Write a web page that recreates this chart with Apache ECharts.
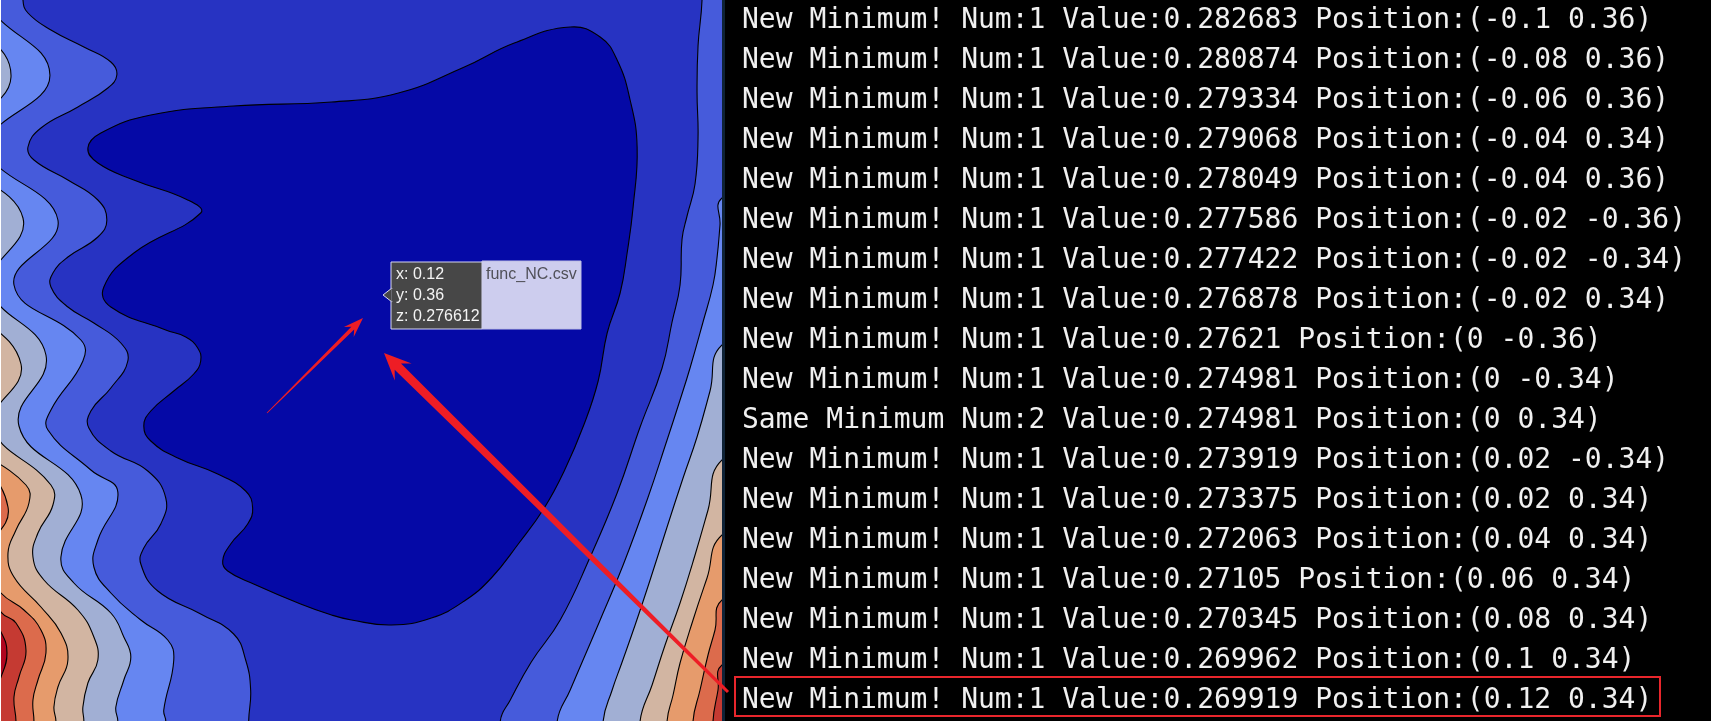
<!DOCTYPE html>
<html>
<head>
<meta charset="utf-8">
<title>func_NC contour</title>
<script src="https://cdn.jsdelivr.net/npm/echarts@6/dist/echarts.min.js"></script>
<style>
html, body { margin: 0; padding: 0; background: #fff; }
#container { width: 1711px; height: 721px; }
</style>
</head>
<body>
<div id="container"></div>
<script>
// contour lines, plot units: x 0..722 to the right, y 0..721 downwards
// innermost closed level (dark blue blob)
var contour1 = [[331,102],[398,93],[464,67],[514,43],[570,27],[600,37],[617,60],[630,100],[637,147],[633,207],[627,253],[620,293],[607,333],[598,381],[584,424],[564,471],[544,508],[518,544],[491,578],[464,601],[431,618],[391,625],[351,620],[331,615],[300,604],[253,584],[227,571],[222,561],[230,544],[247,524],[252,508],[245,491],[217,474],[177,458],[150,441],[143,426],[150,411],[173,391],[193,374],[200,361],[197,348],[185,337],[165,330],[110,307],[103,287],[133,253],[200,213],[187,200],[133,180],[97,163],[87,148],[100,133],[150,115],[233,106]];

// left branches, top to bottom
var left2 = [[22,0],[27,13],[50,30],[83,47],[110,62],[116,75],[107,88],[77,107],[40,128],[27,147],[33,160],[67,180],[97,200],[106,220],[97,237],[67,257],[52,273],[50,287],[67,307],[93,323],[120,343],[127,361],[110,388],[90,411],[88,428],[110,451],[147,471],[165,498],[160,524],[143,548],[140,564],[157,591],[200,614],[233,634],[245,660],[250,690],[248,721]];
var left3 = [[-15,0],[49,75],[-12,147],[57,220],[13,285],[80,340],[82,361],[50,410],[47,430],[90,470],[117,492],[97,540],[93,567],[110,593],[140,620],[167,640],[173,660],[163,710],[165,721]];
var left4 = [[-40,0],[10,77],[-45,147],[22,218],[-10,287],[45,355],[18,426],[80,495],[60,557],[73,583],[110,613],[123,637],[130,657],[123,680],[115,707],[117,721]];
var left5 = [[-70,0],[-25,75],[-80,147],[-15,220],[-40,287],[20,364],[-8,426],[50,485],[52,505],[37,533],[32,557],[43,580],[77,610],[93,637],[97,660],[87,683],[82,707],[83,721]];
var left6 = [[-100,0],[-60,75],[-110,147],[-50,220],[-80,287],[-25,361],[-40,428],[25,485],[28,503],[15,530],[7,553],[13,577],[40,607],[60,633],[67,660],[57,687],[53,707],[55,721]];
var left7 = [[-140,0],[-100,147],[-90,287],[-60,361],[-45,428],[7,507],[-20,562],[0,593],[23,610],[40,630],[45,653],[37,680],[32,700],[33,721]];
var left8 = [[-170,0],[-150,147],[-110,287],[-80,361],[-60,428],[-20,500],[-30,562],[0,612],[15,623],[25,650],[18,677],[13,697],[15,721]];
var left9 = [[-200,0],[-160,287],[-100,428],[-50,500],[-40,562],[0,632],[6,653],[0,677],[-15,710],[-12,721]];

// right branches, bottom to top / right edge
var right2 = [[500,721],[510,700],[531,662],[560,620],[590,557],[617,493],[640,427],[662,368],[672,322],[680,285],[682,239],[687,216],[695,184],[698,138],[697,92],[698,46],[702,0]];
var right3 = [[557,721],[570,690],[582,662],[600,620],[623,565],[647,500],[667,440],[680,400],[690,368],[703,322],[713,285],[717,258],[720,225],[722,198]];
var right4 = [[603,721],[612,690],[622,662],[635,625],[650,580],[667,527],[683,478],[697,437],[710,391],[722,345]];
var right5 = [[640,721],[652,685],[665,645],[680,603],[695,555],[708,510],[722,460]];
var right6 = [[667,721],[673,695],[680,663],[693,620],[707,578],[722,535]];
var right7 = [[693,721],[700,690],[708,655],[715,630],[722,600]];
var right8 = [[713,721],[718,690],[722,665]];
var right9 = [];

var levels = [9, 8, 7, 6, 5, 4, 3, 2, 1];

// console log
var logKind = ['New Minimum!','New Minimum!','New Minimum!','New Minimum!','New Minimum!','New Minimum!','New Minimum!','New Minimum!','New Minimum!','New Minimum!','Same Minimum','New Minimum!','New Minimum!','New Minimum!','New Minimum!','New Minimum!','New Minimum!','New Minimum!'];
var logNum = [1,1,1,1,1,1,1,1,1,1,2,1,1,1,1,1,1,1];
var logValue = [0.282683,0.280874,0.279334,0.279068,0.278049,0.277586,0.277422,0.276878,0.27621,0.274981,0.274981,0.273919,0.273375,0.272063,0.27105,0.270345,0.269962,0.269919];
var logPosX = [-0.1,-0.08,-0.06,-0.04,-0.04,-0.02,-0.02,-0.02,0,0,0,0.02,0.02,0.04,0.06,0.08,0.1,0.12];
var logPosY = [0.36,0.36,0.36,0.34,0.36,-0.36,-0.34,0.34,-0.36,-0.34,0.34,-0.34,0.34,0.34,0.34,0.34,0.34,0.34];

// hover label
var hoverKeys = ['x', 'y', 'z'];
var hoverValues = [0.12, 0.36, 0.276612];
var hoverTrace = 'func_NC.csv';

var bandColors = ['#0509a6','#2733c2','#465bdb','#6686f1','#a1afd4','#d2b5a2','#e69b6c','#dc6b4c','#c53a32','#b0061f'];

var leftBranch = { 2: left2, 3: left3, 4: left4, 5: left5, 6: left6, 7: left7, 8: left8, 9: left9 };
var rightBranch = { 2: right2, 3: right3, 4: right4, 5: right5, 6: right6, 7: right7, 8: right8, 9: right9 };

// region below level k, closed outside the plot so the clip hides the seams
function levelOutline(k) {
    if (k === 1) return contour1;
    var l = leftBranch[k], r = rightBranch[k];
    var pts = [[l[0][0], -60]].concat(l);
    pts.push([l[l.length - 1][0], 780]);
    if (r.length) {
        pts.push([r[0][0], 780]);
        pts = pts.concat(r);
        var last = r[r.length - 1];
        if (last[1] <= 0) {
            pts.push([last[0], -60]);
        } else {
            pts.push([820, last[1] - 60]);
            pts.push([820, -60]);
        }
    } else {
        pts.push([820, 780]);
        pts.push([820, -60]);
    }
    return pts;
}

function arrowShape(tail, tip, headLen, headHalf, tailHalf, neckHalf) {
    var dx = tip[0] - tail[0], dy = tip[1] - tail[1];
    var len = Math.sqrt(dx * dx + dy * dy);
    var ux = dx / len, uy = dy / len, nx = -uy, ny = ux;
    var bx = tip[0] - ux * headLen, by = tip[1] - uy * headLen;
    var cx = tip[0] - ux * headLen * 0.72, cy = tip[1] - uy * headLen * 0.72;
    return [
        [tail[0] + nx * tailHalf, tail[1] + ny * tailHalf],
        [cx + nx * neckHalf, cy + ny * neckHalf],
        [bx + nx * headHalf, by + ny * headHalf],
        tip,
        [bx - nx * headHalf, by - ny * headHalf],
        [cx - nx * neckHalf, cy - ny * neckHalf],
        [tail[0] - nx * tailHalf, tail[1] - ny * tailHalf]
    ];
}

var logLines = [];
for (var i = 0; i < logKind.length; i++) {
    logLines.push(logKind[i] + ' Num:' + logNum[i] + ' Value:' + logValue[i] +
        ' Position:(' + logPosX[i] + ' ' + logPosY[i] + ')');
}
var hoverLines = hoverKeys.map(function (k, i) { return k + ': ' + hoverValues[i]; });

var dom = document.getElementById('container');
var myChart = echarts.init(dom);

var option = {
    animation: false,
    grid: {
        left: 1, top: 0, width: 721, height: 721,
        show: true, backgroundColor: bandColors[9], borderWidth: 0
    },
    xAxis: { type: 'value', min: 0, max: 722, show: false },
    yAxis: { type: 'value', min: 0, max: 721, inverse: true, show: false },
    series: [{
        type: 'custom',
        clip: true,
        data: levels.map(function (k) { return [k]; }),
        renderItem: function (params, api) {
            var k = api.value(0);
            var pts = levelOutline(k).map(function (p) { return api.coord(p); });
            return {
                type: 'polygon',
                shape: { points: pts, smooth: 0.45 },
                style: { fill: bandColors[k - 1], stroke: '#000', lineWidth: 1.1 }
            };
        }
    }],
    graphic: { elements: [
        { type: 'rect', z: 100, shape: { x: 725, y: 0, width: 986, height: 721 }, style: { fill: '#000' } },
        { type: 'rect', z: 100, shape: { x: 722, y: 0, width: 3, height: 721 }, style: { fill: '#0e2236' } },
        { type: 'text', z: 101, x: 742, y: 1,
          style: { text: logLines.join('\n'), font: '28px "DejaVu Sans Mono", monospace', fill: '#f0f0f0', lineHeight: 40, align: 'left', verticalAlign: 'top' } },
        { type: 'rect', z: 102, shape: { x: 735, y: 677, width: 925, height: 39 }, style: { fill: 'none', stroke: '#e8262c', lineWidth: 2 } },
        // hover label
        { type: 'rect', z: 110, shape: { x: 482, y: 261, width: 99, height: 68 }, style: { fill: '#cdcdee', stroke: '#bdbde4', lineWidth: 1 } },
        { type: 'rect', z: 110, shape: { x: 391, y: 262, width: 91, height: 67 }, style: { fill: '#474747', stroke: '#d8d8f2', lineWidth: 1 } },
        { type: 'polygon', z: 111, shape: { points: [[383,295],[392,288],[392,302]] }, style: { fill: '#474747', stroke: '#d8d8f2', lineWidth: 1 } },
        { type: 'rect', z: 112, shape: { x: 391.5, y: 288.5, width: 1.5, height: 13 }, style: { fill: '#474747' } },
        { type: 'text', z: 113, x: 396, y: 264,
          style: { text: hoverLines.join('\n'), font: '16px "Liberation Sans", Arial, sans-serif', fill: '#f4f4f4', lineHeight: 21, align: 'left', verticalAlign: 'top' } },
        { type: 'text', z: 113, x: 486, y: 264,
          style: { text: hoverTrace, font: '16px "Liberation Sans", Arial, sans-serif', fill: '#505058', lineHeight: 21, align: 'left', verticalAlign: 'top' } },
        // red arrows
        { type: 'polygon', z: 120, shape: { points: arrowShape([267,413], [363,318], 20, 7, 0.4, 2) }, style: { fill: '#ee1d25' } },
        { type: 'polygon', z: 120, shape: { points: arrowShape([728,692], [384,353], 27, 12, 1.5, 4.5) }, style: { fill: '#ee1d25' } }
    ] }
};

if (option && typeof option === 'object') {
    myChart.setOption(option, true);
}
</script>
</body>
</html>
